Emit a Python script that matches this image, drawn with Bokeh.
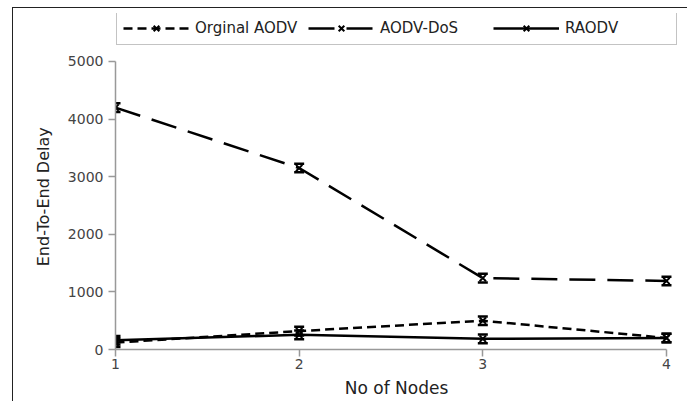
from bokeh.plotting import figure
from bokeh.models import Legend, LegendItem, Whisker, TeeHead, ColumnDataSource, FixedTicker, Range1d
from bokeh.embed import file_html
from bokeh.resources import INLINE

nodes = [1, 2, 3, 4]
orig_aodv = [120, 320, 500, 200]
aodv_dos = [4200, 3150, 1240, 1190]
raodv = [160, 255, 185, 200]
series_names = ["Orginal AODV", "AODV-DoS", "RAODV"]
y_ticks = [0, 1000, 2000, 3000, 4000, 5000]

FONT = "DejaVu Sans"

# frame is extended above 5000 and right of 4 so the legend sits inside it;
# the axes are bounded to the data extent
p = figure(width=675, height=394, output_backend="svg", toolbar_location=None,
           x_range=Range1d(1, 4.06), y_range=Range1d(0, 5833),
           min_border_left=102, min_border_right=11, min_border_top=5, min_border_bottom=53,
           styles={"border-top": "1px solid #222", "border-left": "1px solid #222",
                   "margin-left": "12px", "margin-top": "7px"})
p.outline_line_color = None
p.xgrid.visible = False
p.ygrid.visible = False

for ax in (p.xaxis[0], p.yaxis[0]):
    ax.axis_line_color = "#999999"
    ax.axis_line_width = 1.5
    ax.major_tick_line_color = "#999999"
    ax.major_tick_line_width = 1.5
    ax.minor_tick_line_color = None
    ax.major_tick_in = 0
    ax.major_tick_out = 7
    ax.major_label_text_font = FONT
    ax.major_label_text_font_size = "14px"
    ax.major_label_text_color = "#444444"
    ax.axis_label_text_font = FONT
    ax.axis_label_text_font_style = "normal"
    ax.axis_label_text_color = "#222222"

p.xaxis.ticker = FixedTicker(ticks=nodes)
p.yaxis.ticker = FixedTicker(ticks=y_ticks)
p.xaxis.bounds = (nodes[0], nodes[-1])
p.yaxis.bounds = (y_ticks[0], y_ticks[-1])
p.xaxis.axis_label = "No of Nodes"
# trailing no-break spaces keep the label centred on the 0-5000 axis, not the taller frame
p.yaxis.axis_label = "End-To-End Delay" + "\u00a0" * 6
p.xaxis.axis_label_text_font_size = "17px"
p.yaxis.axis_label_text_font_size = "16px"
p.xaxis.major_label_standoff = 2
p.xaxis.axis_label_standoff = 6
p.yaxis.major_label_standoff = 5
p.yaxis.axis_label_standoff = 12

styles = [("9 5", 2.5), ("26 12", 2.5), ("solid", 2.5)]
items = []
for name, vals, (dash, lw) in zip(series_names, [orig_aodv, aodv_dos, raodv], styles):
    src = ColumnDataSource(dict(x=nodes, y=vals,
                                upper=[v + 75 for v in vals], lower=[v - 75 for v in vals]))
    r_line = p.line("x", "y", source=src, line_color="black", line_width=lw, line_dash=dash)
    r_mark = p.scatter("x", "y", source=src, marker="x", size=9, line_color="black", line_width=2)
    w = Whisker(source=src, base="x", upper="upper", lower="lower", dimension="height",
                line_alpha=0,
                upper_head=TeeHead(size=10, line_color="black", line_width=2.5),
                lower_head=TeeHead(size=10, line_color="black", line_width=2.5))
    p.add_layout(w)
    items.append(LegendItem(label=name, renderers=[r_line, r_mark]))

legend = Legend(items=items, orientation="horizontal", location=(1, 304),
                glyph_width=66, glyph_height=20, label_standoff=6, label_width=105,
                spacing=8, padding=6, margin=0,
                label_text_font=FONT, label_text_font_size="15px", label_text_color="#222222",
                border_line_color="#888888", border_line_width=1.5, background_fill_alpha=1)
p.add_layout(legend, "center")

open("out.html", "w").write(file_html(p, INLINE))
